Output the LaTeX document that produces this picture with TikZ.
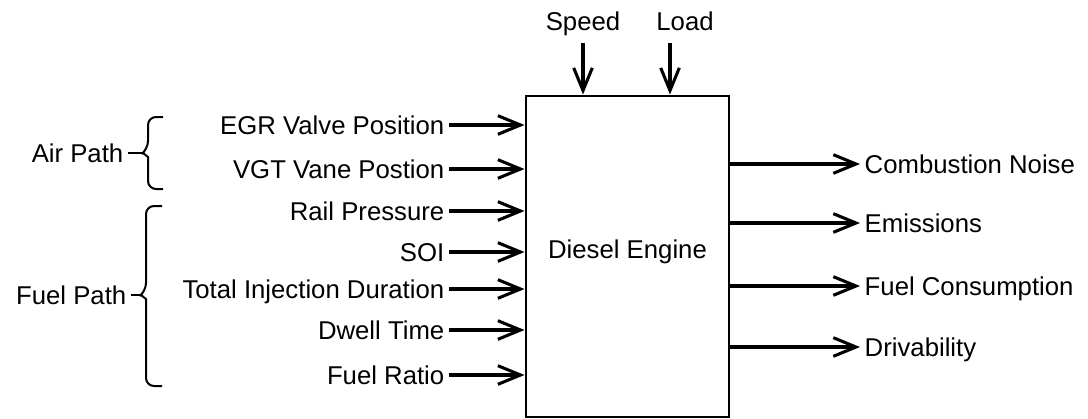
\documentclass[tikz,border=0pt]{standalone}
\usepackage{fontspec}
\setmainfont{Liberation Sans}
\usetikzlibrary{arrows.meta, positioning, calc}
\tikzset{
  lbl/.style={font=\fontsize{19.3}{23}\selectfont, text height=13.9pt, text depth=0pt},
  engine/.style={draw, line width=2.2pt, inner sep=0pt, minimum width=152.25pt, minimum height=240.75pt},
  arr/.style={-{Straight Barb[length=17pt, width=14pt]}, line width=2.3pt},
  bracket/.style={line width=1.5pt, rounded corners=6},
}
\begin{document}
\begin{tikzpicture}[x=0.75pt, y=-0.75pt]
    \useasboundingbox (0,0) rectangle (1088,418);
    \node[engine] (box) at (627.5,256.5) {};
    \node[lbl] (dename) at (627.5,249) {Diesel Engine};

    % inputs on top
    \node[lbl, anchor=base] (speed) at (583,30) {Speed};
    \node[lbl, anchor=base] (load) at (685,30) {Load};
    \coordinate (speedin) at ($(speed.base)+(0,13)$);
    \coordinate (loadin) at ($(load.base)+(-15,13)$);
    \draw[arr] (speedin) -- (speedin |- box.north);
    \draw[arr] (loadin) -- (loadin |- box.north);

    % inputs on the left
    \foreach \y/\txt [count=\i] in {125/EGR Valve Position, 169/VGT Vane Postion,
        211/Rail Pressure, 252/SOI, 289/Total Injection Duration, 330/Dwell Time, 375/Fuel Ratio}{
      \node[lbl, anchor=east] (in\i) at (449,\y) {\txt};
      \draw[arr] (in\i.east) -- (in\i.east -| box.west);
    }

    % outputs
    \foreach \y/\txt [count=\i] in {164/Combustion Noise, 223/Emissions, 286/Fuel Consumption, 347/Drivability}{
      \node[lbl, anchor=west] (out\i) at (860,\y) {\txt};
      \draw[arr] (box.east |- out\i.west) -- (out\i.west);
    }

    % brackets
    \coordinate (airtip) at (143,153);
    \coordinate (fueltip) at (141,295);
    \draw[bracket] (163,117) -- (148,117) -- (148,149) [sharp corners] -- (airtip) -- (148,157) [rounded corners=6] -- (148,189) -- (163,189);
    \draw[bracket] (162,206) -- (146,206) -- (146,291) [sharp corners] -- (fueltip) -- (146,299) [rounded corners=6] -- (146,386) -- (162,386);
    \node[lbl, anchor=east] (air) at (128,153) {Air Path};
    \node[lbl, anchor=east] (fuel) at (131,295) {Fuel Path};
    \draw[line width=1.5pt] (air.east) -- (airtip);
    \draw[line width=1.5pt] (fuel.east) -- (fueltip);
  \end{tikzpicture}
\end{document}
